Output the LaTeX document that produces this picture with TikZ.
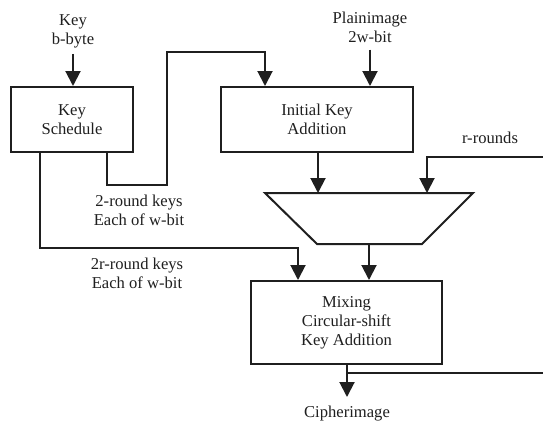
\documentclass[tikz,border=0pt]{standalone}
\usepackage{fontspec}
\setmainfont{Liberation Serif}
\usetikzlibrary{arrows.meta}
\definecolor{ink}{gray}{0.12}
\begin{document}
\begin{tikzpicture}[x=1pt,y=-1pt,
  font=\fontsize{16.6}{19}\selectfont,
  every node/.style={text=ink},
  blockbox/.style={draw=ink, line width=2pt, inner sep=0pt, align=center},
  lbl/.style={inner sep=0pt, align=center},
  wire/.style={draw=ink, line width=2pt},
  arr/.style={wire, -{Triangle[length=15pt,width=15pt]}}]
\useasboundingbox (0,0) rectangle (543,426);
\fill[white] (0,0) rectangle (543,426);

% processing blocks
\node[blockbox, minimum width=122, minimum height=65] (ks) at (72,119.5) {Key\\Schedule};
\node[blockbox, minimum width=192, minimum height=65] (ika) at (317,119.5) {Initial Key\\Addition};
\node[blockbox, minimum width=191, minimum height=83] (mix) at (346.5,322.5) {Mixing\\Circular-shift\\Key Addition};

% multiplexer (trapezoid)
\coordinate (mtl) at (265,193);
\coordinate (mtr) at (473,193);
\coordinate (mbr) at (422,244);
\coordinate (mbl) at (317,244);
\draw[wire, line join=miter] (mtl) -- (mtr) -- (mbr) -- (mbl) -- cycle;
\coordinate (muxa) at (318,193);
\coordinate (muxb) at (427,193);
\coordinate (muxo) at (369,244);

% labels
\node[lbl] (keyin) at (73,31) {Key\\b-byte};
\node[lbl] (plain) at (370,27) {Plainimage\\2w-bit};
\node[lbl] (rr) at (490,138) {r-rounds};
\node[lbl] (rk2) at (139,210) {2-round keys\\Each of w-bit};
\node[lbl] (rk2r) at (137,273) {2r-round keys\\Each of w-bit};
\node[lbl] (ciph) at (347,414) {Cipherimage};

% free ends at the right border
\coordinate (rin) at (543,157);
\coordinate (rout) at (543,373);

% connectors
\draw[arr] (keyin.south) ++(0,6) -- (keyin.south |- ks.north);
\draw[arr] (plain.south) ++(0,7) -- (plain.south |- ika.north);
\draw[arr] (ks.south -| 107,0) -- (107,185) -- (167,185) -- (167,52) -- (265,52) -- (ika.north -| 265,0);
\draw[arr] (ks.south -| 40,0) -- (40,248) -- (298,248) -- (mix.north -| 298,0);
\draw[arr] (ika.south -| muxa) -- (muxa);
\draw[arr] (rin) -- (rin -| muxb) -- (muxb);
\draw[arr] (muxo) -- (muxo |- mix.north);
\draw[arr] (mix.south -| 347,0) -- (347,397);
\draw[wire] (rout -| 347,0) -- (rout);
\end{tikzpicture}
\end{document}
